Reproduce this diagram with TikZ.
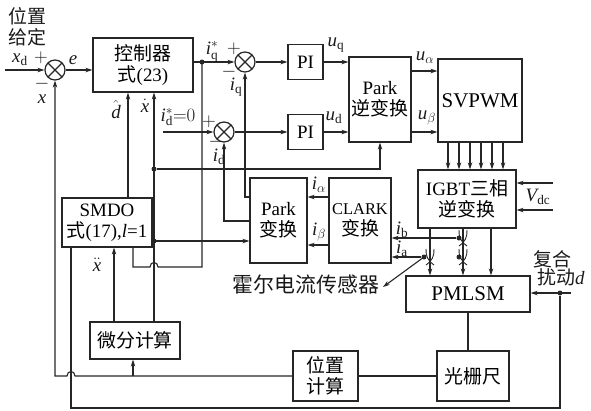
\documentclass[tikz,border=0pt]{standalone}
\usepackage{fix-cm}
\usepackage{fontspec}
\setmainfont{Liberation Serif}
\newfontfamily\cjk{Noto Sans CJK SC}
\usetikzlibrary{arrows.meta,calc}
\newcommand\mi[1]{\mathit{#1}}
\tikzset{
 fnt/.style={font=\fontsize{19}{21}\selectfont},
 blk/.style={draw=black!85, line width=1.2bp, inner sep=0pt, align=center, fnt},
 wire/.style={draw=black!85, line width=1.1bp},
 arr/.style={wire, -{Stealth[length=7bp,width=4.5bp]}},
 sumn/.style={circle, draw=black!85, line width=1.2bp, minimum size=20bp, inner sep=0pt,
   path picture={\draw[line width=1.1bp,black!85] (path picture bounding box.north west)--(path picture bounding box.south east)
     (path picture bounding box.north east)--(path picture bounding box.south west);}},
 jdot/.style={circle, fill=black!85, inner sep=0pt, minimum size=5bp},
 lbl/.style={inner sep=0pt, font=\fontsize{19}{21}\selectfont, text=black!90},
}
\begin{document}
\begin{tikzpicture}[x=1bp,y=-1bp]
\useasboundingbox (0,0) rectangle (591,410);
% blocks
\node[blk, minimum width=100bp, minimum height=54bp] (ctrl) at (143,65) {{\cjk 控制器}\\{\cjk 式}(23)};
\node[blk, minimum width=35bp, minimum height=35bp] (piq) at (305.5,62) {PI};
\node[blk, minimum width=35bp, minimum height=35bp] (pid) at (305.5,132) {PI};
\node[blk, minimum width=62bp, minimum height=85bp] (pinv) at (380,99.5) {Park\\{\cjk 逆变换}};
\node[blk, minimum width=84bp, minimum height=83bp, font=\fontsize{21}{23}\selectfont] (svp) at (480,100.5) {SVPWM};
\node[blk, minimum width=98bp, minimum height=58bp] (igbt) at (467,199) {IGBT{\cjk 三相}\\{\cjk 逆变换}};
\node[blk, minimum width=57bp, minimum height=85bp] (park) at (278.5,220.5) {Park\\{\cjk 变换}};
\node[blk, minimum width=62bp, minimum height=85bp] (clark) at (360,220.5) {{\fontsize{16.5}{21}\selectfont CLARK}\\{\cjk 变换}};
\node[blk, minimum width=90bp, minimum height=49bp] (smdo) at (107,222.5) {SMDO\\{\cjk 式}(17),$\mi{l}$=1};
\node[blk, minimum width=90bp, minimum height=37bp] (diff) at (135,340.5) {{\cjk 微分计算}};
\node[blk, minimum width=124bp, minimum height=36bp, font=\fontsize{21}{23}\selectfont] (pmlsm) at (468,294) {PMLSM};
\node[blk, minimum width=65bp, minimum height=50bp] (poscalc) at (325.5,376) {{\cjk 位置}\\{\cjk 计算}};
\node[blk, minimum width=72bp, minimum height=50bp] (grating) at (473,376) {{\cjk 光栅尺}};
% summing junctions
\node[sumn] (s1) at (55,70) {};
\node[sumn] (s2) at (245,62) {};
\node[sumn] (s3) at (224,132) {};
% junction dots and free ends
\coordinate (in1) at (5,70);
\coordinate (jq) at (202,62);
\coordinate (idin) at (163,132);
\coordinate (v1) at (553,183);
\coordinate (v2) at (553,210);
\coordinate (hall) at (383,287);
\coordinate (din) at (571,293);
\node[jdot] (sb) at (459,238) {};
\node[jdot] (sa) at (424,257) {};
\node[jdot] (sc) at (459,257) {};
\node[jdot] (jx) at (154,169) {};
\node[jdot] (jx2) at (154,241) {};
\node[jdot] (jd) at (560,293) {};
\node[jdot] at (jq) {};
% forward path
\draw[arr] (in1) -- (s1.west);
\draw[arr] (s1.east) -- (s1.east -| ctrl.west);
\draw[arr] (ctrl.east |- s2) -- (s2.west);
\draw[arr] (s2.east) -- (s2.east -| piq.west);
\draw[arr] (piq.east) -- (piq.east -| pinv.west);
\draw[arr] (idin) -- (s3.west);
\draw[arr] (s3.east) -- (s3.east -| pid.west);
\draw[arr] (pid.east) -- (pid.east -| pinv.west);
\draw[arr] (pinv.east |- 0,71) -- (svp.west |- 0,71);
\draw[arr] (pinv.east |- 0,132) -- (svp.west |- 0,132);
\foreach \x in {448,459,470,481,492,503}
  \draw[arr] (svp.south -| \x,0) -- (igbt.north -| \x,0);
\draw[arr] (v1) -- (v1 -| igbt.east);
\draw[arr] (v2) -- (v2 -| igbt.east);
\foreach \x in {430,463,491}
  \draw[arr] (igbt.south -| \x,0) -- (pmlsm.north -| \x,0);
% current sensors
\foreach \X/\Y in {463/238,463/257,430/257}{
  \draw[wire, line width=0.9bp] (\X-4,\Y-8) to[bend right=30] (\X+4,\Y+8);
  \draw[wire, line width=0.9bp] (\X+4,\Y-8) to[bend left=30] (\X-4,\Y+8);
}
\draw[arr] (sb) -- (sb -| clark.east);
\draw[arr] (sa) -- (sa -| clark.east);
\draw[arr] (sa) -- (hall);
\draw[arr] (clark.west |- 0,197) -- (park.east |- 0,197);
\draw[arr] (clark.west |- 0,245) -- (park.east |- 0,245);
\draw[arr] (park.west |- 0,197) -| (s2.south);
\draw[arr] (park.west |- 0,221) -| (s3.south);
% observer paths
\draw[arr] (smdo.east |- jx2) -- (park.west |- jx2);
\draw[arr] (diff.north -| jx) -- (ctrl.south -| jx);
\draw[arr] (jx) -| (pinv.south);
\draw[arr] (smdo.north -| 128,0) -- (ctrl.south -| 128,0);
\draw[wire] (smdo.south -| 133,0) -- (133,267) -- (150,267) .. controls (150,261) and (158,261) .. (158,267) -- (202,267) -- (jq);
\draw[arr] (diff.north -| 114,0) -- (smdo.south -| 114,0);
\draw[arr] (133,376) -- (diff.south -| 133,0);
% feedback
\draw[wire] (pmlsm.south -| 468,0) -- (grating.north -| 468,0);
\draw[wire] (grating.west) -- (poscalc.east);
\draw[arr] (poscalc.west) -- (75,376) .. controls (75,370) and (67,370) .. (67,376) -| (s1.south);
\draw[wire] (smdo.south -| 71,0) -- (71,408) -- (560,408) -- (jd);
\draw[arr] (din) -- (din -| pmlsm.east);
% labels
\node[lbl, align=center] at (27,27) {{\cjk 位置}\\{\cjk 给定}};
\node[lbl] at (20,60) {$\mi{x}_\mathrm{d}$};
\node[lbl] at (41,58) {$+$};
\node[lbl] at (42,84) {$-$};
\node[lbl] at (42,99) {$\mi{x}$};
\node[lbl] at (73,60) {$\mi{e}$};
\node[lbl] at (212,52) {$\mi{i}_\mathrm{q}^*$};
\node[lbl] at (234,49) {$+$};
\node[lbl] at (229,72) {$-$};
\node[lbl] at (236,87) {$\mi{i}_\mathrm{q}$};
\node[lbl] at (116,110) {$\hat{\mi{d}}$};
\node[lbl] at (145,106) {$\dot{\mi{x}}$};
\node[lbl] at (178,117) {$\mi{i}_\mathrm{d}^*{=}0$};
\node[lbl] at (209,122) {$+$};
\node[lbl] at (216,142) {$-$};
\node[lbl] at (219,157) {$\mi{i}_\mathrm{d}$};
\node[lbl] at (336,45) {$\mi{u}_\mathrm{q}$};
\node[lbl] at (334,118) {$\mi{u}_\mathrm{d}$};
\node[lbl] at (425,58) {$\mi{u}_\alpha$};
\node[lbl] at (427,118) {$\mi{u}_\beta$};
\node[lbl] at (319,185) {$\mi{i}_\alpha$};
\node[lbl] at (319,232) {$\mi{i}_\beta$};
\node[lbl] at (402,230) {$\mi{i}_\mathrm{b}$};
\node[lbl] at (402,249) {$\mi{i}_\mathrm{a}$};
\node[lbl] at (538,197) {$\mi{V}_\mathrm{dc}$};
\node[lbl] at (97,265) {$\ddot{\mi{x}}$};
\node[lbl, font=\fontsize{21}{23}\selectfont] at (306,285) {{\cjk 霍尔电流传感器}};
\node[lbl] at (552,259) {{\cjk 复合}};
\node[lbl] at (561,277) {{\cjk 扰动}$\mi{d}$};
\end{tikzpicture}
\end{document}
